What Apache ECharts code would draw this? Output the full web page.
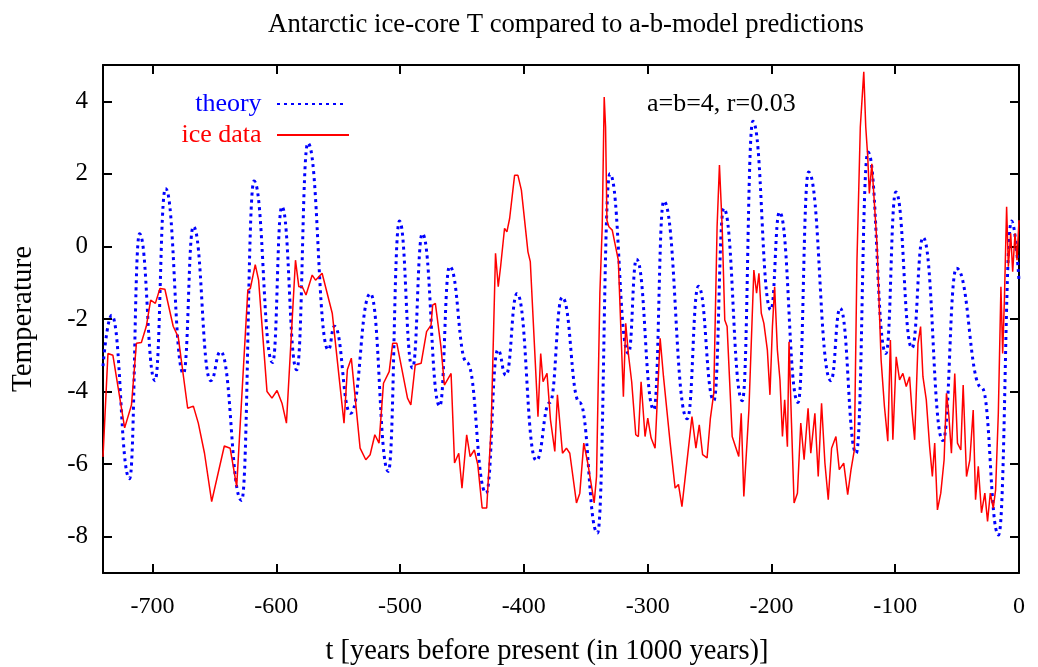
<!DOCTYPE html>
<html><head><meta charset="utf-8">
<script src="https://cdn.jsdelivr.net/npm/echarts@6/dist/echarts.min.js"></script>
<style>html,body{margin:0;padding:0;background:#fff}#c{width:1038px;height:667px}</style>
</head><body><div id="c"></div>
<script>
const xTicks = [-700,-600,-500,-400,-300,-200,-100,0];
const yTicks = [-8,-6,-4,-2,0,2,4];

const theoryT = [-740,-733,-718.5,-710.5,-698,-689.5,-675,-667,-653,-645,-628,-618,-603,-595.5,-583.5,-574.5,-558,-553,-540,-524,-509.5,-500.5,-490,-482,-468,-460,-446,-430.5,-421,-414.5,-405.5,-390,-379,-369,-355,-340.5,-330.5,-315.5,-309,-295,-287,-268,-259,-246.5,-238.5,-223.5,-215,-200.5,-193.5,-178.5,-170,-152,-144.5,-131.5,-122,-107.5,-99.5,-86.5,-77.5,-61.5,-50.5,-30,-16.5,-6,0];
const theoryV = [-3.3,-1.9,-6.4,0.35,-3.7,1.6,-3.5,0.55,-3.7,-2.9,-7.0,1.8,-3.2,1.1,-3.4,2.85,-2.85,-2.2,-4.6,-1.3,-6.2,0.7,-3.35,0.35,-4.4,-0.55,-3.2,-6.8,-2.85,-3.55,-1.3,-5.9,-4.3,-1.4,-4.3,-7.9,2.0,-2.95,-0.35,-4.5,1.25,-4.75,-1.1,-4.25,1.05,-4.25,3.45,-1.75,0.95,-4.3,2.05,-3.7,-1.7,-5.7,2.6,-2.95,1.5,-2.8,0.25,-5.35,-0.6,-3.9,-7.95,0.7,-0.95];

const iceT = [-740,-736,-732,-722.5,-717,-713,-709,-705,-701.5,-697.7,-694,-690,-683.3,-679.2,-671.6,-667,-663,-658,-652.2,-642,-637.3,-632,-623,-621,-617,-614.3,-607.5,-603.5,-599.4,-595.4,-591.8,-584.5,-581.8,-579,-576,-571,-568.3,-563,-554.8,-545.3,-542.6,-539.4,-532.3,-527.7,-524.2,-520.4,-517,-513.4,-508.8,-506,-502.6,-494,-491.3,-487.8,-483,-478.6,-475,-473.7,-471.5,-467,-464.2,-458.8,-456,-452.6,-450,-446.2,-443.4,-440,-437.2,-433.7,-430,-426.4,-422.9,-420.7,-418.8,-415.6,-413.7,-411.5,-407.5,-404.8,-402,-396.7,-394.8,-388.6,-386.4,-384.5,-381.3,-378.5,-375,-372.9,-368.8,-365.6,-362.9,-357.5,-354.8,-351.6,-348.1,-343.2,-341.3,-338.6,-336.7,-335.1,-334,-332.9,-331.3,-328.6,-326.4,-323.7,-319.6,-317.7,-315.6,-312.9,-309.6,-307.5,-305.3,-302.1,-299.9,-297.2,-294,-289.9,-287.2,-281.8,-277.8,-275.1,-272.3,-264.2,-261,-258.3,-255.6,-252,-249.3,-246.6,-243.9,-242,-239.8,-237.7,-235.8,-231.7,-229,-226.4,-224.4,-222.3,-218.2,-214.2,-212,-210.1,-208.2,-206.1,-203.3,-201.2,-199.2,-197.4,-195.2,-193.1,-191.1,-189.3,-187.1,-185.8,-183.8,-181.7,-179,-176.3,-173.6,-170.4,-168.2,-164.9,-162.2,-159.5,-156.8,-154.1,-151.4,-147.9,-145.2,-141.6,-138.4,-135.7,-133,-130.9,-128.2,-125.4,-123.8,-122.2,-120.9,-118.9,-116.8,-114.6,-111.4,-108.7,-106,-103.9,-101.9,-99.2,-96.5,-93.8,-91.1,-88.4,-86.5,-84.3,-81.6,-79.5,-77.6,-74.9,-72.2,-70,-68.1,-65.9,-63.2,-60.5,-58.6,-56.8,-54.6,-51.9,-49.7,-47,-45.1,-42.4,-39.7,-37,-35.1,-32.9,-30.3,-27.6,-25.4,-23.2,-20.8,-18.9,-16.7,-14.6,-13.2,-11.8,-10,-8.6,-6.7,-5.1,-3.2,-1.6,0];
const iceV = [-5.8,-2.95,-3.0,-5.0,-4.37,-2.67,-2.65,-2.2,-1.48,-1.57,-1.16,-1.18,-2.2,-2.5,-4.46,-4.4,-4.87,-5.7,-7.03,-5.5,-5.56,-6.62,-1.2,-1.16,-0.5,-0.93,-4.0,-4.18,-3.97,-4.32,-4.87,-0.38,-1.11,-1.11,-1.34,-0.79,-0.93,-0.74,-1.84,-4.87,-3.4,-3.08,-5.56,-5.88,-5.74,-5.19,-5.42,-3.77,-3.45,-2.67,-2.67,-4.18,-4.37,-3.27,-3.22,-2.35,-2.17,-1.62,-1.57,-2.76,-3.82,-3.5,-5.97,-5.7,-6.66,-5.19,-5.79,-5.61,-6.02,-7.21,-7.21,-4.97,-0.19,-1.11,-0.56,0.5,0.4,0.77,1.96,1.96,1.55,-0.15,-0.42,-4.69,-2.95,-3.73,-3.5,-4.78,-5.65,-4.09,-5.7,-5.56,-5.7,-7.07,-6.8,-5.42,-6.02,-7.07,-6.34,-1.29,0.54,4.12,3.29,0.72,0.54,0.45,0.08,-0.38,-4.14,-2.12,-2.95,-3.73,-5.19,-5.24,-3.73,-5.24,-4.73,-5.28,-5.56,-2.53,-3.59,-5.42,-6.66,-6.56,-7.17,-4.69,-5.56,-4.92,-5.74,-5.83,-4.73,-4.05,0.54,2.24,0.54,-2.03,-2.21,-5.24,-5.52,-5.79,-4.6,-6.89,-4.51,-0.65,-1.29,-0.74,-1.84,-2.12,-2.85,-4.09,-2.21,-1.11,-2.85,-3.68,-5.24,-4.23,-5.52,-2.63,-4.87,-7.07,-6.8,-4.87,-5.88,-4.46,-5.7,-4.6,-6.34,-4.32,-5.97,-6.98,-5.56,-5.24,-6.15,-5.97,-6.84,-6.15,-5.61,-0.38,3.29,4.81,3.29,2.47,1.46,2.28,1.18,-0.01,-3.13,-4.41,-5.37,-2.58,-5.33,-3.04,-3.68,-3.5,-3.86,-3.59,-4.51,-5.33,-2.67,-2.21,-3.59,-4.23,-5.52,-6.34,-5.42,-7.26,-6.8,-5.88,-4.05,-4.6,-5.7,-3.5,-5.42,-5.61,-3.82,-6.34,-5.88,-4.51,-6.98,-6.06,-7.34,-6.8,-7.58,-6.8,-7.21,-6.71,-4.6,-1.11,-2.95,-1.48,1.09,-0.56,0.36,-0.7,0.36,-0.38,0.72];

const FONT = '"Liberation Serif", "Times New Roman", serif';
const pair = (xs, ys) => xs.map((x, i) => [x, ys[i]]);

const axisLineStyle = {color: '#000', width: 2};
function xAx(pos, main) {
  return {
    type: 'value', min: -740, max: 0, position: pos,
    axisLine: {show: true, onZero: false, lineStyle: axisLineStyle},
    axisTick: {show: true, inside: true, length: 9, customValues: xTicks, lineStyle: axisLineStyle},
    axisLabel: {show: main, customValues: xTicks, margin: 22, fontFamily: FONT, fontSize: 24, color: '#000'},
    splitLine: {show: false},
    name: main ? 't [years before present (in 1000 years)]' : '',
    nameLocation: 'middle', nameGap: 64,
    nameTextStyle: {fontFamily: FONT, fontSize: 28.5, color: '#000', padding: [0, 28, 0, 0]}
  };
}
function yAx(pos, main) {
  return {
    type: 'value', min: -9, max: 5, position: pos,
    axisLine: {show: true, onZero: false, lineStyle: axisLineStyle},
    axisTick: {show: true, inside: true, length: 9, customValues: yTicks, lineStyle: axisLineStyle},
    axisLabel: {show: main, customValues: yTicks, margin: 15, fontFamily: FONT, fontSize: 25, color: '#000'},
    splitLine: {show: false},
    name: main ? 'Temperature' : '',
    nameLocation: 'middle', nameGap: 65, nameRotate: 90,
    nameTextStyle: {fontFamily: FONT, fontSize: 29, color: '#000'}
  };
}

const noSymbol = {color: 'rgba(0,0,0,0)', borderColor: 'rgba(0,0,0,0)', borderWidth: 0, opacity: 0};

const chart = echarts.init(document.getElementById('c'), null, {renderer: 'canvas'});
chart.setOption({
  backgroundColor: '#fff',
  animation: false,
  title: {
    text: 'Antarctic ice-core T compared to a-b-model predictions',
    left: 561, top: 6, textAlign: 'center',
    textStyle: {fontFamily: FONT, fontSize: 26.7, fontWeight: 'normal', color: '#000'}
  },
  grid: {left: 103, right: 19, top: 65, bottom: 94, containLabel: false, outerBoundsMode: 'none'},
  xAxis: [xAx('bottom', true), xAx('top', false)],
  yAxis: [yAx('left', true), yAx('right', false)],
  legend: [
    {data: [{name: 'theory'}], align: 'right', right: 692, top: 91, padding: 0,
     itemWidth: 68, itemHeight: 14, formatter: n => n + '\u2009\u2009',
     itemStyle: noSymbol,
     textStyle: {fontFamily: FONT, fontSize: 26, color: '#0000ff'}},
    {data: [{name: 'ice data'}], align: 'right', right: 688, top: 122, padding: 0,
     itemWidth: 72, itemHeight: 14, formatter: n => n + '\u2009\u2009',
     itemStyle: noSymbol,
     textStyle: {fontFamily: FONT, fontSize: 26, color: '#ff0000'}}
  ],
  graphic: [{
    type: 'text', left: 647, top: 91,
    style: {text: 'a=b=4, r=0.03', fontFamily: FONT, fontSize: 26, fill: '#000'}
  }],
  series: [
    {name: 'theory', type: 'line', xAxisIndex: 0, yAxisIndex: 0,
     data: pair(theoryT, theoryV), symbol: 'none', smooth: 0.5, smoothMonotone: 'x',
     lineStyle: {color: '#0000ff', width: 3, type: [3, 4]}, itemStyle: {color: '#0000ff'}},
    {name: 'ice data', type: 'line', xAxisIndex: 0, yAxisIndex: 0,
     data: pair(iceT, iceV), symbol: 'none',
     lineStyle: {color: '#ff0000', width: 1.5}, itemStyle: {color: '#ff0000'}}
  ]
});
</script></body></html>
